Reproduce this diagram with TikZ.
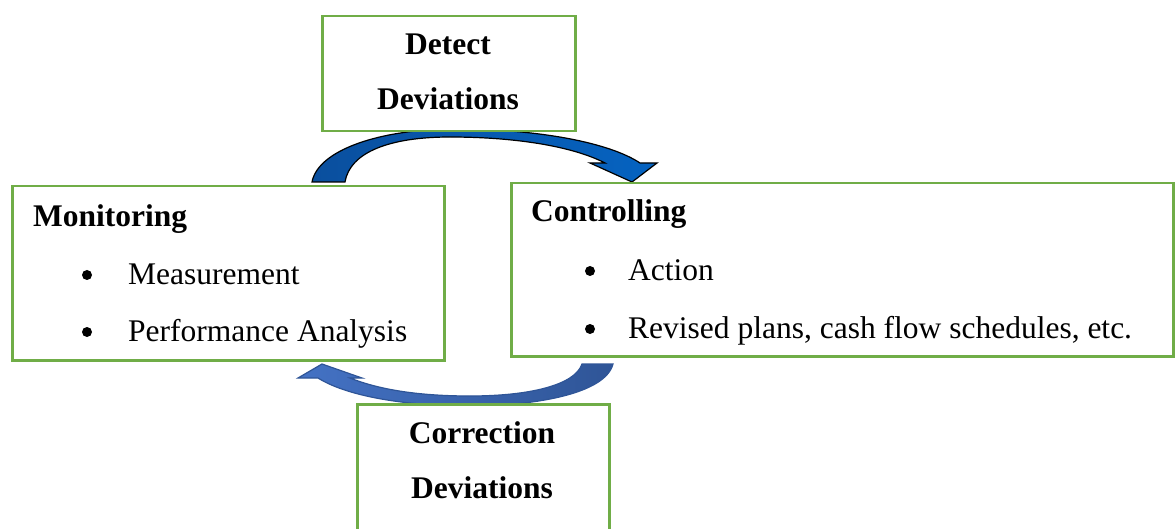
\documentclass[tikz,border=0pt]{standalone}
\usepackage{fontspec}
\setmainfont{Liberation Serif}
\usetikzlibrary{positioning}

\definecolor{boxgreen}{HTML}{70AD47}
\definecolor{topblue}{HTML}{0A4F9E}
\definecolor{topblueb}{HTML}{0563C1}
\definecolor{lowblue}{HTML}{4472C4}
\definecolor{lowblueb}{HTML}{2F5597}

\tikzset{
  stagebox/.style={draw=boxgreen, line width=2.5pt, fill=white, anchor=north west, inner sep=0pt},
  stagetitle/.style={font=\fontsize{31.5}{36}\selectfont\bfseries, anchor=base west, inner sep=0pt},
  stagehead/.style={font=\fontsize{31.5}{36}\selectfont\bfseries, anchor=base, inner sep=0pt},
  stageitem/.style={font=\fontsize{31.5}{36}\selectfont, anchor=base west, inner sep=0pt},
  itemdot/.style={circle, fill=black, minimum size=10pt, inner sep=0pt}
}

\begin{document}
\begin{tikzpicture}[x=1pt, y=-1pt]
\useasboundingbox (0,0) rectangle (1175,529);

%Flèche du haut
\draw[black, line width=1.2pt, left color=topblue, right color=topblueb]
  (312,182) .. controls (318,150) and (380,129) .. (455,129)
  .. controls (540,129) and (610,143) .. (640,163)
  -- (657,163) -- (632,182) -- (590,163) -- (605,163)
  .. controls (570,145) and (510,137) .. (450,137)
  .. controls (390,137) and (350,152) .. (345,182) -- cycle;

%Flèche du bas
\draw[lowblueb, line width=1.2pt, left color=lowblue, right color=lowblueb]
  (613,364) .. controls (605,395) and (530,406) .. (470,406)
  .. controls (400,406) and (345,395) .. (318,378)
  -- (298,378) -- (322,364) -- (362,378) -- (350,378)
  .. controls (380,390) and (420,396) .. (470,396)
  .. controls (530,396) and (575,385) .. (582,364) -- cycle;

%Cadres
\node[stagebox, minimum width=253, minimum height=115] (detect) at (321,15) {};
\node[stagebox, minimum width=432, minimum height=174] (monitoring) at (11,185) {};
\node[stagebox, minimum width=662, minimum height=173] (controlling) at (510,182) {};
\node[stagebox, minimum width=252, minimum height=126] (correction) at (356,403) {};

%Textes
\node[stagehead] (detect1) at (448,55) {Detect};
\node[stagehead] (detect2) at (448,110) {Deviations};

\node[stagehead] (correction1) at (482,443) {Correction};
\node[stagehead] (correction2) at (482,498) {Deviations};

\node[stagetitle] (montitle) at (33,227) {Monitoring};
\node[itemdot] (mondot1) at (87,275) {};
\node[stageitem] (monitem1) at (128,284) {Measurement};
\node[itemdot] (mondot2) at (87,332) {};
\node[stageitem] (monitem2) at (128,341) {Performance Analysis};

\node[stagetitle] (ctrltitle) at (531,222) {Controlling};
\node[itemdot] (ctrldot1) at (590,271) {};
\node[stageitem] (ctrlitem1) at (628,280) {Action};
\node[itemdot] (ctrldot2) at (590,329) {};
\node[stageitem] (ctrlitem2) at (628,338) {Revised plans, cash flow schedules, etc.};

\end{tikzpicture}
\end{document}
